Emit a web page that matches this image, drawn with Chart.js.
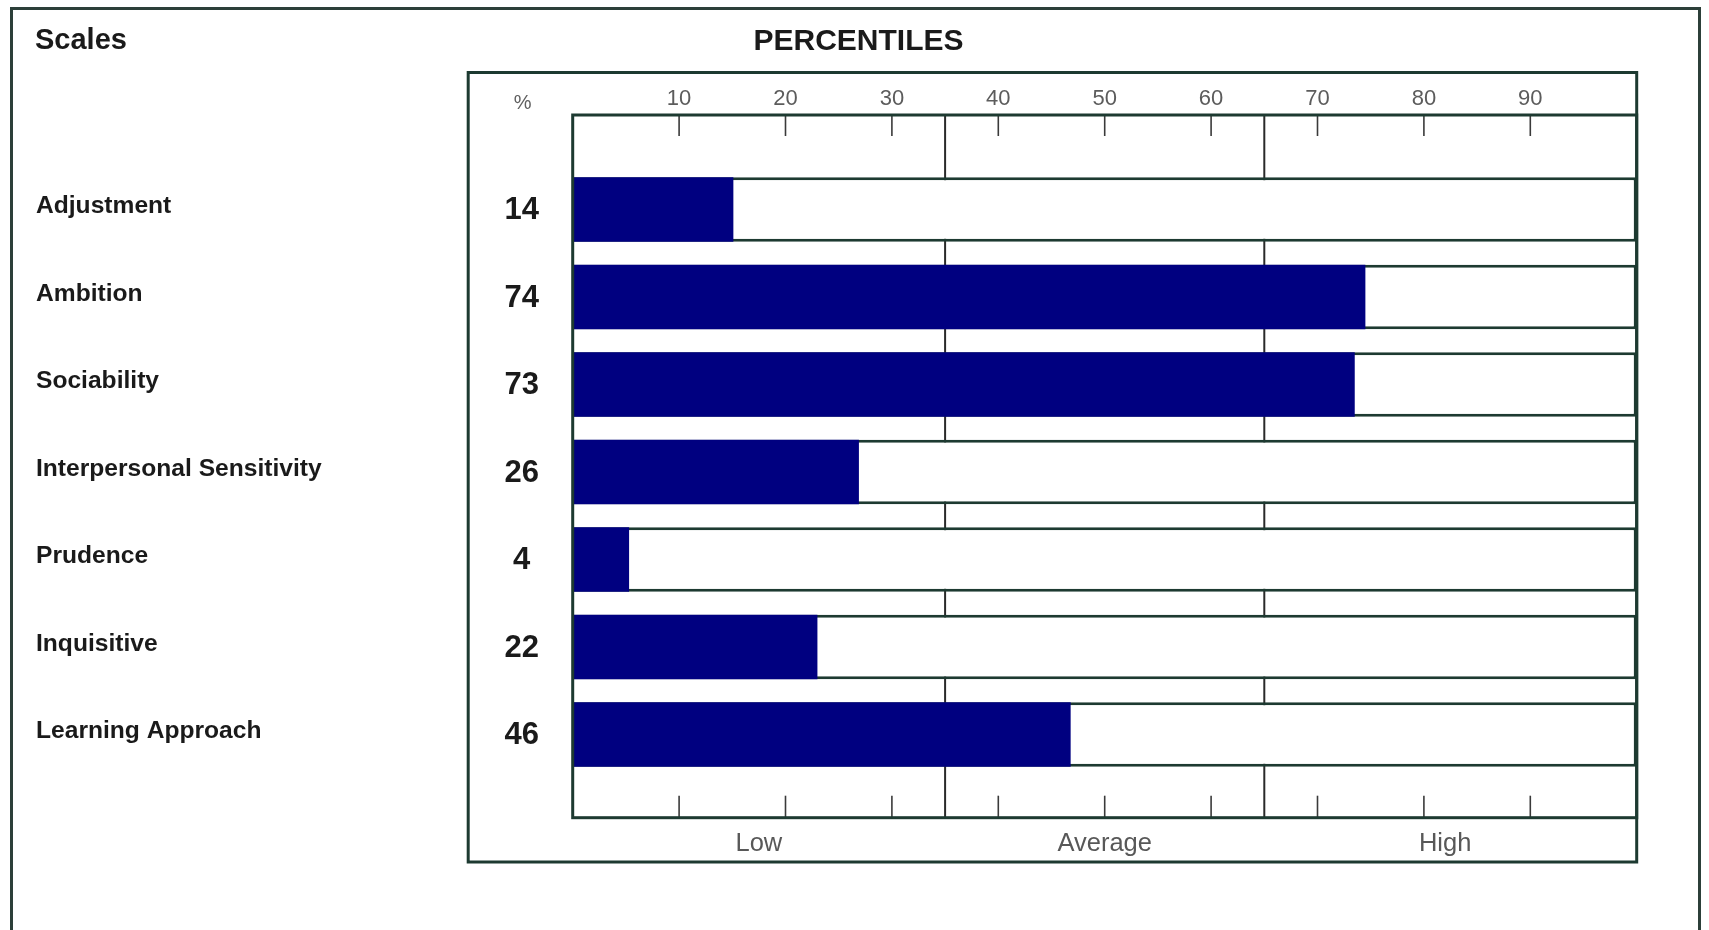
<!DOCTYPE html>
<html>
<head>
<meta charset="utf-8">
<script src="https://cdn.jsdelivr.net/npm/chart.js@4.4.1/dist/chart.umd.min.js"></script>
<style>
html,body{margin:0;padding:0;background:#fff;overflow:hidden}
#wrap{width:1709px;height:930px;position:relative}
</style>
</head>
<body>
<div id="wrap"><canvas id="c"></canvas></div>
<script>
// ---- data ----
const scaleNames = ['Adjustment','Ambition','Sociability','Interpersonal Sensitivity','Prudence','Inquisitive','Learning Approach'];
const percentileScores = [14, 74, 73, 26, 4, 22, 46];
const barEnds = [15.1, 74.5, 73.5, 26.9, 5.3, 23.0, 46.8];   // bar lengths as drawn
const fullRange = [100, 100, 100, 100, 100, 100, 100];
const percentTicks = [10, 20, 30, 40, 50, 60, 70, 80, 90];
const bandBounds = [35, 65];
const bandLabels = ['Low', 'Average', 'High'];
const bandLabelPositions = [17.5, 50, 82];

// ---- styles ----
const FONT = "'Liberation Sans', Arial, Helvetica, sans-serif";
const LINE = '#1d3a31';
const NAVY = '#000080';
const TEXT = '#1a1a1a';
Chart.defaults.font.family = FONT;

const decor = {
  id: 'decor',
  beforeDraw(chart) {
    const {ctx, width, height, chartArea: ca} = chart;
    ctx.save();
    ctx.fillStyle = '#fff';
    ctx.fillRect(0, 0, width, height);
    // page border
    ctx.strokeStyle = '#2c3f39';
    ctx.lineWidth = 3;
    ctx.beginPath();
    ctx.moveTo(11.5, height + 5);
    ctx.lineTo(11.5, 8.5);
    ctx.lineTo(1699.5, 8.5);
    ctx.lineTo(1699.5, height + 5);
    ctx.stroke();
    // panel box
    ctx.strokeStyle = LINE;
    const pl = ca.left - 104.5, pt = ca.top - 42.5, pb = ca.bottom + 44.3;
    ctx.strokeRect(pl, pt, ca.right - pl, pb - pt);
    ctx.restore();
  },
  beforeDatasetsDraw(chart) {
    const {ctx, chartArea: ca, scales} = chart;
    const xs = scales.x;
    ctx.save();
    // band dividers
    ctx.strokeStyle = '#2a2a2a';
    ctx.lineWidth = 2;
    bandBounds.forEach(v => {
      const px = xs.getPixelForValue(v);
      ctx.beginPath(); ctx.moveTo(px, ca.top); ctx.lineTo(px, ca.bottom); ctx.stroke();
    });
    // short ticks top & bottom
    ctx.strokeStyle = '#3a3a3a';
    ctx.lineWidth = 1.6;
    percentTicks.forEach(v => {
      const px = xs.getPixelForValue(v);
      ctx.beginPath(); ctx.moveTo(px, ca.top); ctx.lineTo(px, ca.top + 21); ctx.stroke();
      ctx.beginPath(); ctx.moveTo(px, ca.bottom - 22); ctx.lineTo(px, ca.bottom); ctx.stroke();
    });
    ctx.restore();
  },
  afterDatasetsDraw(chart) {
    const {ctx, chartArea: ca, scales} = chart;
    const ys = scales.y;
    ctx.save();
    // plot frame
    ctx.strokeStyle = LINE;
    ctx.lineWidth = 3;
    ctx.strokeRect(ca.left, ca.top, ca.right - ca.left, ca.bottom - ca.top);
    // scores
    ctx.fillStyle = TEXT;
    ctx.font = 'bold 31px ' + FONT;
    ctx.textAlign = 'center';
    ctx.textBaseline = 'middle';
    percentileScores.forEach((s, i) => {
      ctx.fillText(String(s), ca.left - 51, ys.getPixelForValue(i) + 1);
    });
    // "%"
    ctx.fillStyle = '#606060';
    ctx.font = '20px ' + FONT;
    ctx.fillText('%', ca.left - 50, ca.top - 12);
    // titles
    ctx.fillStyle = TEXT;
    ctx.font = 'bold 30px ' + FONT;
    ctx.fillText('PERCENTILES', 858.5, 42);
    ctx.textAlign = 'left';
    ctx.font = 'bold 29px ' + FONT;
    ctx.fillText('Scales', 35, 41);
    ctx.restore();
  }
};

new Chart(document.getElementById('c'), {
  type: 'bar',
  data: {
    datasets: [
      {
        label: 'Percentile',
        data: barEnds.map((v, i) => ({x: v, y: i})),
        backgroundColor: NAVY,
        borderWidth: 0,
        grouped: false,
        order: 0,
        barPercentage: 0.736,
        categoryPercentage: 1
      },
      {
        label: 'Range',
        data: fullRange.map((v, i) => ({x: v, y: i})),
        backgroundColor: '#ffffff',
        borderColor: LINE,
        borderWidth: 3,
        borderSkipped: false,
        grouped: false,
        order: 1,
        barPercentage: 0.736,
        categoryPercentage: 1
      }
    ]
  },
  options: {
    indexAxis: 'y',
    responsive: true,
    maintainAspectRatio: false,
    animation: false,
    events: [],
    layout: {padding: {left: 36, right: 72.3, top: 75, bottom: 62.3}},
    plugins: {legend: {display: false}, tooltip: {enabled: false}, title: {display: false}},
    scales: {
      x: {
        type: 'linear', position: 'top', min: 0, max: 100, offset: false,
        grid: {display: false}, border: {display: false},
        afterBuildTicks: s => { s.ticks = percentTicks.map(v => ({value: v})); },
        afterFit: s => { s.height = 40; },
        ticks: {autoSkip: false, maxRotation: 0, padding: -5, color: '#5c5c5c', font: {size: 22}}
      },
      x2: {
        type: 'linear', position: 'bottom', min: 0, max: 100, offset: false,
        grid: {display: false}, border: {display: false},
        afterBuildTicks: s => { s.ticks = bandLabelPositions.map(v => ({value: v})); },
        afterFit: s => { s.height = 50; },
        ticks: {autoSkip: false, maxRotation: 0, padding: 3, color: '#585858', font: {size: 25.5},
                callback: (v, i) => bandLabels[i]}
      },
      y: {
        type: 'linear', position: 'left', reverse: true, min: -1.08, max: 6.95, offset: false,
        grid: {display: false}, border: {display: false},
        afterBuildTicks: s => { s.ticks = scaleNames.map((_, i) => ({value: i})); },
        afterFit: s => { s.width = 536.7; },
        ticks: {autoSkip: false, crossAlign: 'far', labelOffset: -3, color: TEXT,
                font: {size: 24.6, weight: 'bold'}, callback: v => scaleNames[v]}
      }
    }
  },
  plugins: [decor]
});
</script>
</body>
</html>
